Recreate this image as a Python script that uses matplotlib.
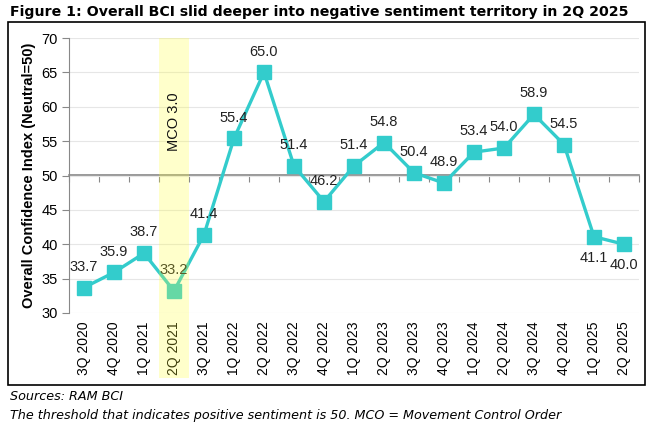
import matplotlib
matplotlib.use("Agg")
import matplotlib.pyplot as plt
from matplotlib.patches import Rectangle
import matplotlib.transforms as mtransforms

quarters = ["3Q 2020", "4Q 2020", "1Q 2021", "2Q 2021", "3Q 2021", "1Q 2022",
            "2Q 2022", "3Q 2022", "4Q 2022", "1Q 2023", "2Q 2023", "3Q 2023",
            "4Q 2023", "1Q 2024", "2Q 2024", "3Q 2024", "4Q 2024", "1Q 2025",
            "2Q 2025"]
bci = [33.7, 35.9, 38.7, 33.2, 41.4, 55.4, 65.0, 51.4, 46.2, 51.4, 54.8,
       50.4, 48.9, 53.4, 54.0, 58.9, 54.5, 41.1, 40.0]
below_labels = ["1Q 2025", "2Q 2025"]
mco_quarter = "2Q 2021"
neutral = 50

teal = "#33CCCC"

fig = plt.figure(figsize=(6.61, 4.30), dpi=100)
ax = fig.add_axes([69 / 661, 1 - 313 / 430, 570 / 661, 275 / 430])

x = list(range(len(quarters)))
ax.plot(x, bci, color=teal, lw=2.4, marker="s", ms=9.5, zorder=3)

for xi, v, q in zip(x, bci, quarters):
    dy = -15 if q in below_labels else 15
    ax.annotate(f"{v:.1f}", (xi, v), xytext=(0, dy), textcoords="offset points",
                ha="center", va="center", fontsize=10.5, family="Liberation Sans",
                color="#222222", zorder=4)

ax.set_xlim(-0.5, len(quarters) - 0.5)
ax.set_ylim(30, 70)
ax.set_yticks(range(30, 71, 5))
ax.grid(axis="y", color="#E6E6E6", lw=0.8)
ax.set_axisbelow(True)

ax.set_xticks(x)
ax.set_xticklabels(quarters, rotation=90, fontsize=10, family="Liberation Sans")
ax.tick_params(axis="x", length=0, pad=6)
ax.tick_params(axis="y", length=5, color="#888888", labelsize=10.5, pad=3)
for lab in ax.get_yticklabels():
    lab.set_family("Liberation Sans")

for s in ["top", "right", "bottom"]:
    ax.spines[s].set_visible(False)
ax.spines["left"].set_color("#888888")

# neutral line acting as the category axis, ticks hanging below it
sec = ax.secondary_xaxis((neutral - 30) / 40)
sec.set_xticks([i - 0.5 for i in range(len(quarters) + 1)])
sec.set_xticklabels([])
sec.tick_params(length=5, color="#888888", direction="in")
for sp in sec.spines.values():
    sp.set_color("#888888")
    sp.set_linewidth(1.2)

ax.set_ylabel("Overall Confidence Index (Neutral=50)", fontsize=10.5,
              fontweight="bold", family="Liberation Sans", labelpad=4)

# MCO 3.0 highlight band
mi = quarters.index(mco_quarter)
trans = mtransforms.blended_transform_factory(ax.transData, ax.transAxes)
band = Rectangle((mi - 0.5, -0.235), 1, 1.235, transform=trans, facecolor="#FFFF33",
                 alpha=0.25, edgecolor="none", clip_on=False, zorder=5)
ax.add_patch(band)
ax.text(mi, 57.8, "MCO 3.0", rotation=90, ha="center", va="center", fontsize=10.5,
        family="Liberation Sans", color="#111111", zorder=6)

# frame around the chart
fig.patches.append(Rectangle((8 / 661, 1 - 385 / 430), 637 / 661, 363 / 430,
                             transform=fig.transFigure, fill=False,
                             edgecolor="black", lw=1.2))

fig.text(10 / 661, 1 - 12 / 430, "Figure 1: Overall BCI slid deeper into negative sentiment territory in 2Q 2025",
         fontsize=10.2, fontweight="bold", ha="left", va="center")
fig.text(10 / 661, 1 - 397 / 430, "Sources: RAM BCI", fontsize=9.2, style="italic",
         ha="left", va="center")
fig.text(10 / 661, 1 - 415 / 430,
         "The threshold that indicates positive sentiment is 50. MCO = Movement Control Order",
         fontsize=9.2, style="italic", ha="left", va="center")

fig.savefig("out.png", dpi=100)
